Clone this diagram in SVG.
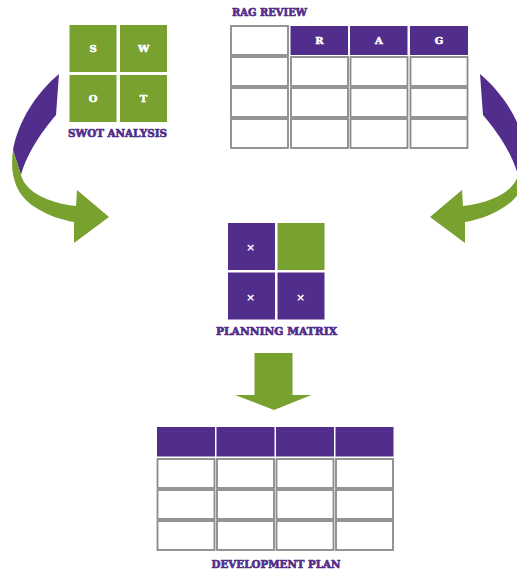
<svg xmlns="http://www.w3.org/2000/svg" xmlns:xlink="http://www.w3.org/1999/xlink" width="517" height="574" viewBox="0 0 517 574">
<style>
.title{font-family:"DejaVu Serif","Liberation Serif",serif;font-weight:bold;font-size:11.5px;fill:#522e8c;stroke:#522e8c;stroke-width:0.7px;text-anchor:middle;}
.cellt{font-family:"DejaVu Serif","Liberation Serif",serif;font-weight:bold;font-size:10px;fill:#ffffff;stroke:#ffffff;stroke-width:0.6px;text-anchor:middle;}
.mark{font-family:"DejaVu Sans","Liberation Sans",sans-serif;font-weight:bold;font-size:11px;fill:#ffffff;text-anchor:middle;}
.g{fill:#78a130;}
.p{fill:#522e8c;}
.w{fill:#ffffff;stroke:#8a8a8a;stroke-width:1.8;}
</style>
<defs>
<g id="curve">
<path class="p" d="M59,74 C36,93 18,122 13,150 L21,175 C28,150 45,128 56,115 Z"/>
<path class="g" d="M13,150 C9,178 18,198 38,209 C50,216 62,220 74,222 L74,243 L109,217 L77,190 L76,206 C55,204 36,196 28,187 C24,183 22,179 21,175 Z"/>
</g>
</defs>
<rect width="517" height="574" fill="#ffffff"/>

<g id="connectors">
<use xlink:href="#curve"/>
<use xlink:href="#curve" transform="translate(539,0) scale(-1,1)"/>
<path class="g" d="M254.5,353 L292.5,353 L292.5,395 L311.5,395 L274,410 L235,395 L254.5,395 Z"/>
</g>

<g id="swot">
<rect class="g" x="69.5" y="25" width="47" height="47"/>
<rect class="g" x="120" y="25" width="47" height="47"/>
<rect class="g" x="69.5" y="75" width="47" height="47"/>
<rect class="g" x="120" y="75" width="47" height="47"/>
<text class="cellt" x="93" y="52">S</text>
<text class="cellt" x="143.5" y="52">W</text>
<text class="cellt" x="93" y="102">O</text>
<text class="cellt" x="143.5" y="102">T</text>
<text class="title" x="117.5" y="136.5" textLength="99" lengthAdjust="spacingAndGlyphs">SWOT ANALYSIS</text>
</g>

<g id="rag-review">
<text class="title" x="269.5" y="15.5" textLength="75" lengthAdjust="spacingAndGlyphs">RAG REVIEW</text>
<rect class="w" x="231" y="26" width="57" height="29"/>
<rect class="p" x="290.5" y="26" width="57.5" height="29"/>
<rect class="p" x="350" y="26" width="57.5" height="29"/>
<rect class="p" x="410" y="26" width="58" height="29"/>
<text class="cellt" x="319.5" y="44">R</text>
<text class="cellt" x="379" y="44">A</text>
<text class="cellt" x="439" y="44">G</text>
<rect class="w" x="231" y="57" width="57" height="29"/>
<rect class="w" x="291" y="57" width="57" height="29"/>
<rect class="w" x="350.5" y="57" width="57" height="29"/>
<rect class="w" x="410.5" y="57" width="57" height="29"/>
<rect class="w" x="231" y="88" width="57" height="29"/>
<rect class="w" x="291" y="88" width="57" height="29"/>
<rect class="w" x="350.5" y="88" width="57" height="29"/>
<rect class="w" x="410.5" y="88" width="57" height="29"/>
<rect class="w" x="231" y="119" width="57" height="29"/>
<rect class="w" x="291" y="119" width="57" height="29"/>
<rect class="w" x="350.5" y="119" width="57" height="29"/>
<rect class="w" x="410.5" y="119" width="57" height="29"/>
</g>

<g id="planning-matrix">
<rect class="p" x="228" y="223" width="47" height="47"/>
<rect class="g" x="277.5" y="223" width="47" height="47"/>
<rect class="p" x="228" y="272.5" width="47" height="47"/>
<rect class="p" x="277.5" y="272.5" width="47" height="47"/>
<text class="mark" x="250.5" y="251">×</text>
<text class="mark" x="250.5" y="301">×</text>
<text class="mark" x="300.5" y="301">×</text>
<text class="title" x="276.5" y="335" textLength="121" lengthAdjust="spacingAndGlyphs">PLANNING MATRIX</text>
</g>

<g id="development-plan">
<rect class="p" x="157" y="427" width="58" height="29.5"/>
<rect class="p" x="216.5" y="427" width="58" height="29.5"/>
<rect class="p" x="276" y="427" width="58" height="29.5"/>
<rect class="p" x="335.5" y="427" width="58" height="29.5"/>
<rect class="w" x="157.5" y="459" width="57" height="29"/>
<rect class="w" x="217" y="459" width="57" height="29"/>
<rect class="w" x="276.5" y="459" width="57" height="29"/>
<rect class="w" x="336" y="459" width="57" height="29"/>
<rect class="w" x="157.5" y="490" width="57" height="29"/>
<rect class="w" x="217" y="490" width="57" height="29"/>
<rect class="w" x="276.5" y="490" width="57" height="29"/>
<rect class="w" x="336" y="490" width="57" height="29"/>
<rect class="w" x="157.5" y="521" width="57" height="29"/>
<rect class="w" x="217" y="521" width="57" height="29"/>
<rect class="w" x="276.5" y="521" width="57" height="29"/>
<rect class="w" x="336" y="521" width="57" height="29"/>
<text class="title" x="276" y="567.5" textLength="129" lengthAdjust="spacingAndGlyphs">DEVELOPMENT PLAN</text>
</g>
</svg>
